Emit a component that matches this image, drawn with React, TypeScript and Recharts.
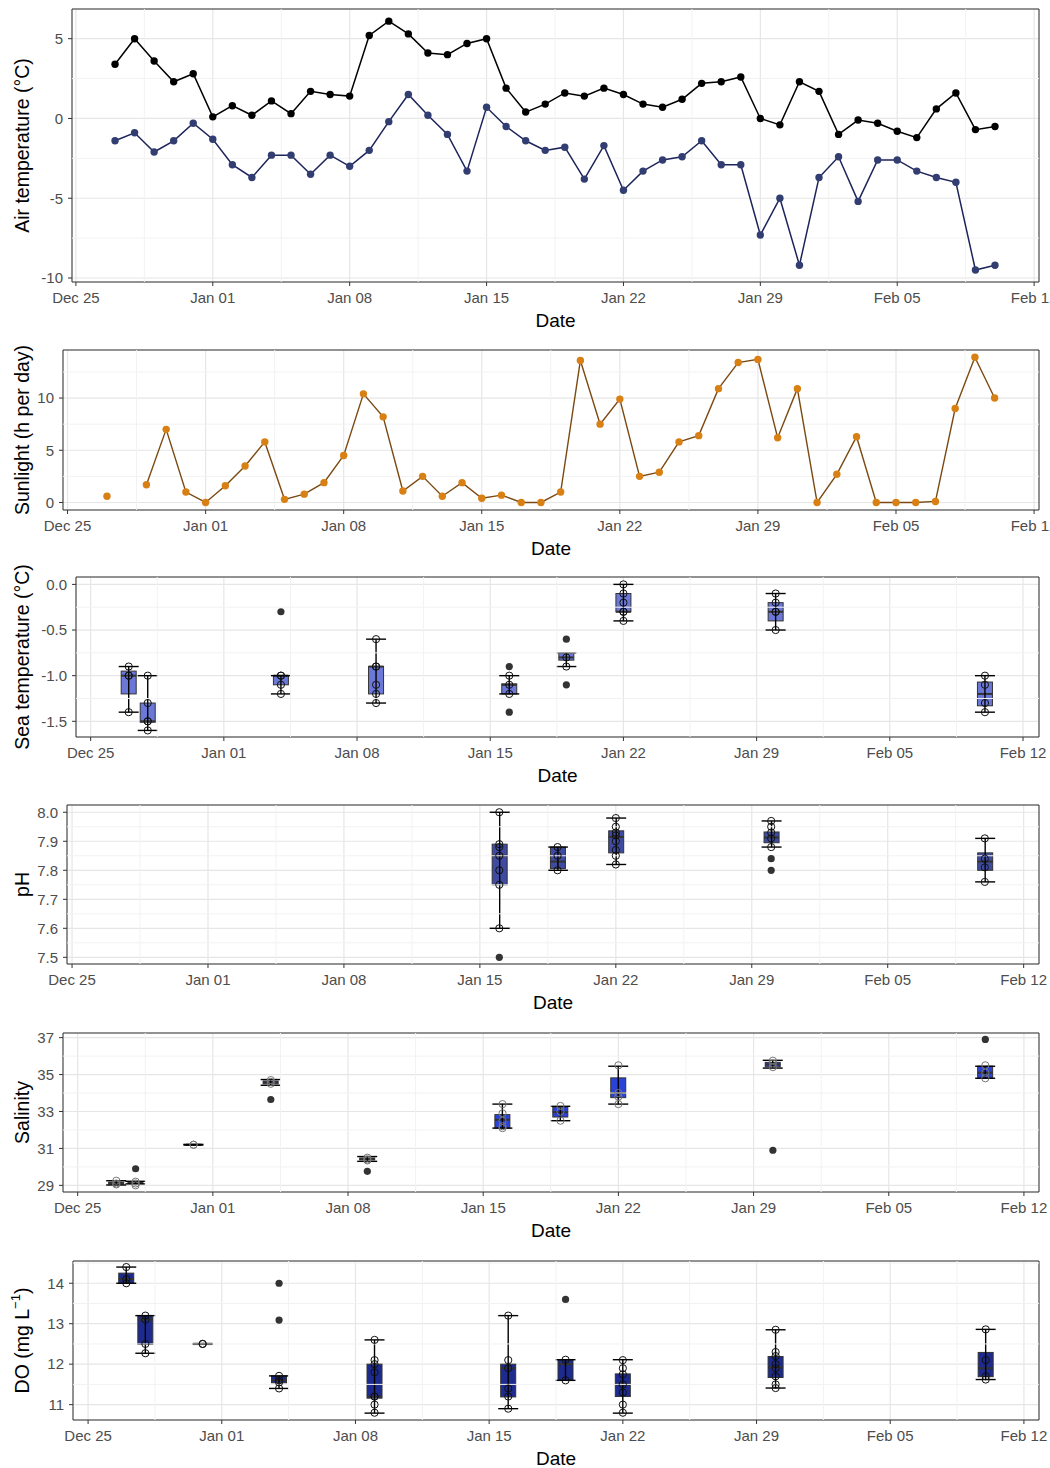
import React from "react";
import {
  Bar,
  CartesianGrid,
  ComposedChart,
  Line,
  ReferenceArea,
  ReferenceLine,
  Scatter,
  XAxis,
  YAxis,
} from "recharts";

// Six stacked panels (theme_bw look): air temp, sunlight, then boxplots of
// sea temperature, pH, salinity and DO per sampling day.

const W = 1050;
const PLOT_RIGHT = 1039;
const MT = 20;
const AXIS_H = 52;
const FONT = '"Liberation Sans", Arial, Helvetica, sans-serif';

// x axis = days since Dec 25
const xTicks = [0, 7, 14, 21, 28, 35, 42, 49];
const xTickLabels = ["Dec 25", "Jan 01", "Jan 08", "Jan 15", "Jan 22", "Jan 29", "Feb 05", "Feb 12"];
const xMinor = [3.5, 10.5, 17.5, 24.5, 31.5, 38.5, 45.5];

// daily records, Dec 27 .. Feb 10
const dailyDays = [
  2, 3, 4, 5, 6, 7, 8, 9, 10, 11, 12, 13, 14, 15, 16, 17, 18, 19, 20, 21, 22, 23, 24,
  25, 26, 27, 28, 29, 30, 31, 32, 33, 34, 35, 36, 37, 38, 39, 40, 41, 42, 43, 44, 45, 46, 47,
];
const airMax = [
  3.4, 5.0, 3.6, 2.3, 2.8, 0.1, 0.8, 0.2, 1.1, 0.3, 1.7, 1.5, 1.4, 5.2, 6.1, 5.3, 4.1, 4.0, 4.7,
  5.0, 1.9, 0.4, 0.9, 1.6, 1.4, 1.9, 1.5, 0.9, 0.7, 1.2, 2.2, 2.3, 2.6, 0.0, -0.4, 2.3, 1.7, -1.0,
  -0.1, -0.3, -0.8, -1.2, 0.6, 1.6, -0.7, -0.5,
];
const airMin = [
  -1.4, -0.9, -2.1, -1.4, -0.3, -1.3, -2.9, -3.7, -2.3, -2.3, -3.5, -2.3, -3.0, -2.0, -0.2, 1.5,
  0.2, -1.0, -3.3, 0.7, -0.5, -1.4, -2.0, -1.8, -3.8, -1.7, -4.5, -3.3, -2.6, -2.4, -1.4, -2.9,
  -2.9, -7.3, -5.0, -9.2, -3.7, -2.4, -5.2, -2.6, -2.6, -3.3, -3.7, -4.0, -9.5, -9.2,
];
const sunHours: (number | null)[] = [
  0.6, null, 1.7, 7.0, 1.0, 0, 1.6, 3.5, 5.8, 0.3, 0.8, 1.9, 4.5, 10.4, 8.2, 1.1, 2.5, 0.6, 1.9,
  0.4, 0.7, 0, 0, 1.0, 13.6, 7.5, 9.9, 2.5, 2.9, 5.8, 6.4, 10.9, 13.4, 13.7, 6.2, 10.9, 0, 2.7,
  6.3, 0, 0, 0, 0.1, 9.0, 13.9, 10.0,
];

// sea temperature boxes
const seaDays = [2, 3, 10, 15, 22, 25, 28, 36, 47];
const seaLo = [-1.4, -1.6, -1.2, -1.3, -1.2, -0.9, -0.4, -0.5, -1.4];
const seaQ1 = [-1.2, -1.51, -1.1, -1.2, -1.2, -0.83, -0.3, -0.4, -1.33];
const seaMed = [-1.0, -1.5, -1.0, -0.9, -1.1, -0.8, -0.3, -0.3, -1.2];
const seaQ3 = [-0.95, -1.3, -1.0, -0.9, -1.09, -0.75, -0.1, -0.2, -1.07];
const seaHi = [-0.9, -1.0, -1.0, -0.6, -1.0, -0.75, 0.0, -0.1, -1.0];
const seaObs = [
  [-0.9, -1.0, -1.0, -1.4], [-1.0, -1.3, -1.5, -1.5, -1.6], [-1.0, -1.0, -1.1, -1.2],
  [-0.6, -0.9, -0.9, -1.1, -1.2, -1.3], [-1.0, -1.1, -1.2], [-0.8, -0.9],
  [0.0, -0.1, -0.2, -0.3, -0.3, -0.4], [-0.1, -0.2, -0.3, -0.3, -0.5], [-1.0, -1.1, -1.3, -1.4],
];
const seaOut = [[], [], [-0.3], [], [-0.9, -1.4], [-0.6, -1.1], [], [], []];

// pH boxes
const phDays = [22, 25, 28, 36, 47];
const phLo = [7.6, 7.8, 7.82, 7.88, 7.76];
const phQ1 = [7.75, 7.806, 7.86, 7.895, 7.8];
const phMed = [7.85, 7.83, 7.915, 7.913, 7.83];
const phQ3 = [7.89, 7.88, 7.936, 7.932, 7.86];
const phHi = [8.0, 7.88, 7.98, 7.97, 7.91];
const phObs = [
  [8.0, 7.89, 7.88, 7.85, 7.8, 7.75, 7.6], [7.88, 7.85, 7.8],
  [7.98, 7.95, 7.93, 7.92, 7.9, 7.87, 7.85, 7.82], [7.97, 7.95, 7.93, 7.91, 7.88],
  [7.91, 7.84, 7.81, 7.76],
];
const phOut = [[7.5], [], [], [7.84, 7.8], []];

// salinity boxes
const salDays = [2, 3, 6, 10, 15, 22, 25, 28, 36, 47];
const salLo = [29.02, 29.08, 31.18, 34.42, 30.3, 32.1, 32.5, 33.4, 35.35, 34.8];
const salQ1 = [29.07, 29.12, 31.19, 34.5, 30.38, 32.1, 32.7, 33.75, 35.42, 34.8];
const salMed = [29.12, 29.15, 31.2, 34.58, 30.43, 32.55, 32.96, 34.0, 35.55, 35.1];
const salQ3 = [29.17, 29.18, 31.21, 34.65, 30.48, 32.83, 33.24, 34.82, 35.66, 35.45];
const salHi = [29.25, 29.22, 31.22, 34.73, 30.56, 33.4, 33.28, 35.45, 35.77, 35.45];
const salObs = [
  [29.25, 29.1, 29.05], [29.2, 29.1, 29.0], [31.2, 31.2], [34.7, 34.6, 34.5],
  [30.5, 30.4, 30.35], [33.4, 32.9, 32.5, 32.2, 32.1], [33.3, 33.0, 32.5],
  [35.5, 34.0, 33.8, 33.4], [35.75, 35.6, 35.4], [35.5, 35.1, 34.8],
];
const salOut = [[], [29.9], [], [33.65], [29.76], [], [], [], [30.9], [36.9]];

// dissolved oxygen boxes
const doDays = [2, 3, 6, 10, 15, 22, 25, 28, 36, 47];
const doLo = [14.0, 12.27, 12.49, 11.4, 10.79, 10.9, 11.6, 10.79, 11.41, 11.62];
const doQ1 = [14.0, 12.49, 12.49, 11.54, 11.16, 11.19, 11.6, 11.2, 11.67, 11.69];
const doMed = [14.1, 13.1, 12.5, 11.6, 11.2, 11.9, 12.0, 11.5, 11.92, 11.9];
const doQ3 = [14.25, 13.2, 12.51, 11.71, 12.0, 12.0, 12.11, 11.76, 12.19, 12.29];
const doHi = [14.4, 13.2, 12.51, 11.71, 12.6, 13.2, 12.11, 12.11, 12.85, 12.86];
const doObs = [
  [14.4, 14.1, 14.0], [13.2, 13.1, 12.5, 12.27], [12.5, 12.5], [11.71, 11.6, 11.55, 11.4],
  [12.6, 12.1, 12.0, 11.8, 11.2, 11.2, 11.0, 10.8], [13.2, 12.1, 11.9, 11.4, 11.2, 10.9],
  [12.11, 11.6], [12.1, 11.9, 11.75, 11.5, 11.3, 11.0, 10.8],
  [12.85, 12.3, 12.2, 12.0, 11.9, 11.7, 11.5, 11.41], [12.86, 12.1, 11.7, 11.62],
];
const doOut = [[], [], [], [14.0, 13.09], [], [], [13.6], [], [], []];

type Frame = {
  top: number;
  bottom: number;
  left: number;
  xDomain: [number, number];
  yDomain: [number, number];
  yTicks: number[];
  yMinor: number[];
  digits: number;
  title: React.ReactNode;
};

function boxRows(days: number[], lo: number[], q1: number[], med: number[], q3: number[], hi: number[]) {
  return days.map((d, i) => ({
    d,
    range: [lo[i], hi[i]],
    lo: lo[i],
    q1: q1[i],
    med: med[i],
    q3: q3[i],
    hi: hi[i],
  }));
}

function pointRows(days: number[], vals: number[][]) {
  return days.flatMap((d, i) => vals[i].map((v) => ({ d, v })));
}

function makeBox(fill: string) {
  return (p: any) => {
    const { x, y, width, height, payload } = p;
    if (x == null || y == null || !payload) return <g />;
    const top = Math.min(y, y + height);
    const h = Math.abs(height);
    const span = payload.hi - payload.lo;
    const k = span > 0 ? h / span : 0;
    const py = (v: number) => top + (payload.hi - v) * k;
    const cx = x + width / 2;
    const cap = 10;
    return (
      <g>
        <rect
          x={x}
          y={py(payload.q3)}
          width={width}
          height={Math.max(py(payload.q1) - py(payload.q3), 0.5)}
          fill={fill}
          stroke="#333333"
          strokeWidth={1}
        />
        <line x1={x} x2={x + width} y1={py(payload.med)} y2={py(payload.med)} stroke="#333333" strokeWidth={2} />
        <line x1={cx} x2={cx} y1={py(payload.hi)} y2={py(payload.lo)} stroke="#000" strokeWidth={1.4} />
        <line x1={cx - cap} x2={cx + cap} y1={py(payload.hi)} y2={py(payload.hi)} stroke="#000" strokeWidth={1.4} />
        <line x1={cx - cap} x2={cx + cap} y1={py(payload.lo)} y2={py(payload.lo)} stroke="#000" strokeWidth={1.4} />
      </g>
    );
  };
}

const openCircle = (stroke: string) => (p: any) =>
  <circle cx={p.cx} cy={p.cy} r={3.6} fill="none" stroke={stroke} strokeWidth={1} />;
const solidDot = (p: any) => <circle cx={p.cx} cy={p.cy} r={3.6} fill="#333333" />;

function Panel({ f, data, children }: { f: Frame; data?: any[]; children: React.ReactNode }) {
  const plotH = f.bottom - f.top;
  const h = plotH + MT + AXIS_H;
  const midY = MT + plotH / 2;
  const midX = f.left + (PLOT_RIGHT - f.left) / 2;
  return (
    <div style={{ position: "absolute", left: 0, top: f.top - MT, width: W, height: h }}>
      <ComposedChart
        width={W}
        height={h}
        data={data}
        margin={{ top: MT, right: W - PLOT_RIGHT, bottom: 0, left: 0 }}
      >
        <CartesianGrid stroke="#E6E6E6" strokeWidth={1.2} />
        {xMinor.map((v) => (
          <ReferenceLine key={"xm" + v} x={v} stroke="#F2F2F2" strokeWidth={1} />
        ))}
        {f.yMinor.map((v) => (
          <ReferenceLine key={"ym" + v} y={v} stroke="#F2F2F2" strokeWidth={1} />
        ))}
        <XAxis
          type="number"
          dataKey="d"
          domain={f.xDomain}
          ticks={xTicks}
          interval={0}
          allowDataOverflow
          tickFormatter={(v: number) => xTickLabels[xTicks.indexOf(v)] ?? ""}
          tick={{ fontSize: 15, fill: "#4D4D4D" }}
          tickLine={{ stroke: "#333333" }}
          tickSize={4}
          tickMargin={6}
          axisLine={false}
          height={AXIS_H}
          label={() => (
            <text x={midX} y={MT + plotH + 38} textAnchor="middle" dominantBaseline="central" fontSize={19} fill="#000">
              Date
            </text>
          )}
        />
        <YAxis
          type="number"
          domain={f.yDomain}
          ticks={f.yTicks}
          interval={0}
          allowDataOverflow
          width={f.left}
          tickFormatter={(v: number) => v.toFixed(f.digits)}
          tick={{ fontSize: 15, fill: "#4D4D4D" }}
          tickLine={{ stroke: "#333333" }}
          tickSize={4}
          tickMargin={5}
          axisLine={false}
          label={() => (
            <text
              x={22}
              y={midY}
              transform={`rotate(-90 22 ${midY})`}
              textAnchor="middle"
              dominantBaseline="central"
              fontSize={19.5}
              fill="#000"
            >
              {f.title}
            </text>
          )}
        />
        {children}
        <ReferenceArea
          y1={f.yDomain[0]}
          y2={f.yDomain[1]}
          fill="none"
          stroke="#333333"
          strokeWidth={1}
          ifOverflow="visible"
        />
      </ComposedChart>
    </div>
  );
}

const airRows = dailyDays.map((d, i) => ({ d, max: airMax[i], min: airMin[i] }));
const sunRows = dailyDays.map((d, i) => ({ d, sun: sunHours[i] }));

function BoxPanel({
  f, rows, obs, out, fill, obsStroke,
}: { f: Frame; rows: any[]; obs: any[]; out: any[]; fill: string; obsStroke: string }) {
  return (
    <Panel f={f} data={rows}>
      <Bar dataKey="range" barSize={15} shape={makeBox(fill)} isAnimationActive={false} />
      <Scatter data={obs} dataKey="v" shape={openCircle(obsStroke)} isAnimationActive={false} />
      <Scatter data={out} dataKey="v" shape={solidDot} isAnimationActive={false} />
    </Panel>
  );
}

export default function App() {
  const fAir: Frame = {
    top: 9, bottom: 282, left: 72, xDomain: [-0.2, 49.25], yDomain: [-10.25, 6.86],
    yTicks: [-10, -5, 0, 5], yMinor: [-7.5, -2.5, 2.5], digits: 0, title: "Air temperature (°C)",
  };
  const fSun: Frame = {
    top: 350, bottom: 510, left: 63, xDomain: [-0.23, 49.25], yDomain: [-0.72, 14.6],
    yTicks: [0, 5, 10], yMinor: [2.5, 7.5, 12.5], digits: 0, title: "Sunlight (h per day)",
  };
  const fSea: Frame = {
    top: 577, bottom: 737, left: 76, xDomain: [-0.77, 49.84], yDomain: [-1.672, 0.081],
    yTicks: [-1.5, -1.0, -0.5, 0.0], yMinor: [-1.25, -0.75, -0.25], digits: 1, title: "Sea temperature (°C)",
  };
  const fPh: Frame = {
    top: 805, bottom: 964, left: 67, xDomain: [-0.26, 49.79], yDomain: [7.477, 8.025],
    yTicks: [7.5, 7.6, 7.7, 7.8, 7.9, 8.0], yMinor: [7.55, 7.65, 7.75, 7.85, 7.95], digits: 1, title: "pH",
  };
  const fSal: Frame = {
    top: 1033, bottom: 1192, left: 63, xDomain: [-0.76, 49.78], yDomain: [28.64, 37.25],
    yTicks: [29, 31, 33, 35, 37], yMinor: [30, 32, 34, 36], digits: 0, title: "Salinity",
  };
  const fDo: Frame = {
    top: 1261, bottom: 1420, left: 73, xDomain: [-0.79, 49.79], yDomain: [10.62, 14.55],
    yTicks: [11, 12, 13, 14], yMinor: [11.5, 12.5, 13.5, 14.5], digits: 0,
    title: (
      <>
        DO (mg L<tspan dy={-7} fontSize={13}>−1</tspan>
        <tspan dy={7}>)</tspan>
      </>
    ),
  };

  return (
    <div
      style={{
        position: "absolute",
        left: 0,
        top: 0,
        width: W,
        height: 1468,
        overflow: "hidden",
        background: "#fff",
        fontFamily: FONT,
      }}
    >
      <Panel f={fAir} data={airRows}>
        <Line dataKey="max" stroke="#000" strokeWidth={1.5} dot={{ r: 3.7, fill: "#000", stroke: "none" }} activeDot={false} isAnimationActive={false} />
        <Line dataKey="min" stroke="#1C245A" strokeWidth={1.5} dot={{ r: 3.7, fill: "#323E72", stroke: "none" }} activeDot={false} isAnimationActive={false} />
      </Panel>
      <Panel f={fSun} data={sunRows}>
        <Line dataKey="sun" stroke="#7B4A13" strokeWidth={1.4} dot={{ r: 3.7, fill: "#D98014", stroke: "none" }} activeDot={false} isAnimationActive={false} />
      </Panel>
      <BoxPanel
        f={fSea}
        rows={boxRows(seaDays, seaLo, seaQ1, seaMed, seaQ3, seaHi)}
        obs={pointRows(seaDays, seaObs)}
        out={pointRows(seaDays, seaOut)}
        fill="#6B78D8"
        obsStroke="#111"
      />
      <BoxPanel
        f={fPh}
        rows={boxRows(phDays, phLo, phQ1, phMed, phQ3, phHi)}
        obs={pointRows(phDays, phObs)}
        out={pointRows(phDays, phOut)}
        fill="#3E4BA0"
        obsStroke="#111"
      />
      <BoxPanel
        f={fSal}
        rows={boxRows(salDays, salLo, salQ1, salMed, salQ3, salHi)}
        obs={pointRows(salDays, salObs)}
        out={pointRows(salDays, salOut)}
        fill="#2B42D8"
        obsStroke="#777"
      />
      <BoxPanel
        f={fDo}
        rows={boxRows(doDays, doLo, doQ1, doMed, doQ3, doHi)}
        obs={pointRows(doDays, doObs)}
        out={pointRows(doDays, doOut)}
        fill="#1E2B8E"
        obsStroke="#111"
      />
    </div>
  );
}
